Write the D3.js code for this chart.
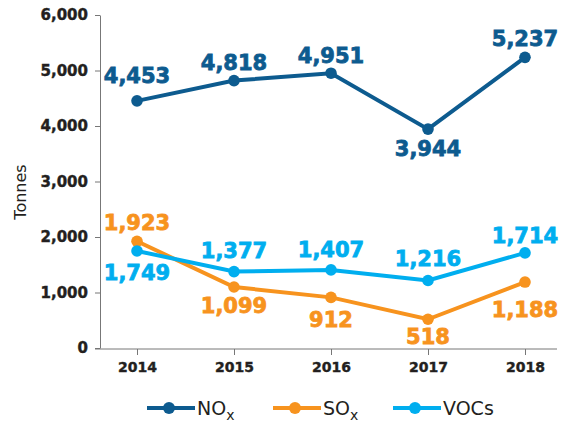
<!DOCTYPE html>
<html>
<head>
<meta charset="utf-8">
<script src="https://cdn.jsdelivr.net/npm/d3@7"></script>
<style>
  body { margin: 0; background: #fff; }
  text { font-family: "DejaVu Sans", sans-serif; }
</style>
</head>
<body>
<div id="chart"></div>
<script>
// data
const years = ["2014", "2015", "2016", "2017", "2018"]
const nox = [4453, 4818, 4951, 3944, 5237]
const sox = [1923, 1099, 912, 518, 1188]
const vocs = [1749, 1377, 1407, 1216, 1714]
const yTicks = [0, 1000, 2000, 3000, 4000, 5000, 6000]

// label offset from the point (px, baseline)
const noxDy = [-18, -11, -10, 27, -11]
const soxDy = [-11, 26, 30, 25, 35]
const vocsDy = [29, -14, -13, -15, -10]

const series = [
  {name: "NO", sub: "x", values: nox, color: "#0d5b8f", dy: noxDy},
  {name: "SO", sub: "x", values: sox, color: "#f7931e", dy: soxDy},
  {name: "VOCs", sub: "", values: vocs, color: "#00aeef", dy: vocsDy}
]

let width = 574, height = 426

let svg = d3.select('#chart').append('svg')
    .attr('width', width)
    .attr('height', height)

let x = d3.scalePoint().domain(years).range([137, 525])
let y = d3.scaleLinear().domain([0, 6000]).range([348, 15])

const fmt = d3.format(",")

// y axis
let yAxis = svg.append('g')
    .attr('transform', 'translate(100,0)')
    .call(d3.axisLeft(y).tickValues(yTicks).tickFormat(fmt).tickSize(5).tickSizeOuter(0))
yAxis.select('.domain').attr('stroke', '#777')
yAxis.selectAll('.tick line').attr('stroke', '#777')
yAxis.selectAll('.tick text')
    .attr('x', -12)
    .style('font-size', '15px')
    .style('font-weight', 'bold')
    .attr('fill', '#231f20')
    .attr('stroke', '#231f20')
    .attr('stroke-width', 0.4)

// x axis
let xAxis = svg.append('g')
    .attr('transform', 'translate(0,349)')
    .call(d3.axisBottom(x).tickSize(6).tickSizeOuter(0))
xAxis.select('.domain').remove()
xAxis.append('line')
    .attr('x1', 95).attr('x2', 557)
    .attr('stroke', '#777')
xAxis.selectAll('.tick line').attr('stroke', '#777')
xAxis.selectAll('.tick text')
    .attr('y', 13)
    .style('font-size', '14px')
    .style('font-weight', 'bold')
    .attr('fill', '#231f20')
    .attr('stroke', '#231f20')
    .attr('stroke-width', 0.4)

svg.append('text')
    .attr('transform', 'translate(26,192) rotate(-90)')
    .attr('text-anchor', 'middle')
    .style('font-size', '16px')
    .attr('fill', '#231f20')
    .text('Tonnes')

let line = d3.line()
    .x((d, i) => x(years[i]))
    .y(d => y(d))

series.forEach(s => {
    svg.append('path')
        .datum(s.values)
        .attr('d', line)
        .attr('fill', 'none')
        .attr('stroke', s.color)
        .attr('stroke-width', 4)

    svg.selectAll(null)
        .data(s.values)
        .enter().append('circle')
        .attr('cx', (d, i) => x(years[i]))
        .attr('cy', d => y(d))
        .attr('r', 5.8)
        .attr('fill', s.color)
})

// value labels drawn on top
series.forEach(s => {
    svg.selectAll(null)
        .data(s.values)
        .enter().append('text')
        .attr('x', (d, i) => x(years[i]))
        .attr('y', (d, i) => y(d) + s.dy[i])
        .attr('text-anchor', 'middle')
        .style('font-size', '21px')
        .style('font-weight', 'bold')
        .attr('fill', s.color)
        .attr('stroke', s.color)
        .attr('stroke-width', 0.8)
        .text(d => fmt(d))
})

// legend
const legendX = [147, 273, 393]
let legend = svg.append('g')
series.forEach((s, i) => {
    let g = legend.append('g').attr('transform', 'translate(' + legendX[i] + ',408)')
    g.append('line').attr('x1', 0).attr('x2', 48)
        .attr('stroke', s.color).attr('stroke-width', 4)
    g.append('circle').attr('cx', 22).attr('r', 6).attr('fill', s.color)
    let t = g.append('text')
        .attr('x', 50)
        .attr('y', 7)
        .style('font-size', '19px')
        .attr('fill', '#231f20')
    t.append('tspan').text(s.name)
    if (s.sub) {
        t.append('tspan').attr('dy', 5).style('font-size', '14px').text(s.sub)
    }
})
</script>
</body>
</html>
